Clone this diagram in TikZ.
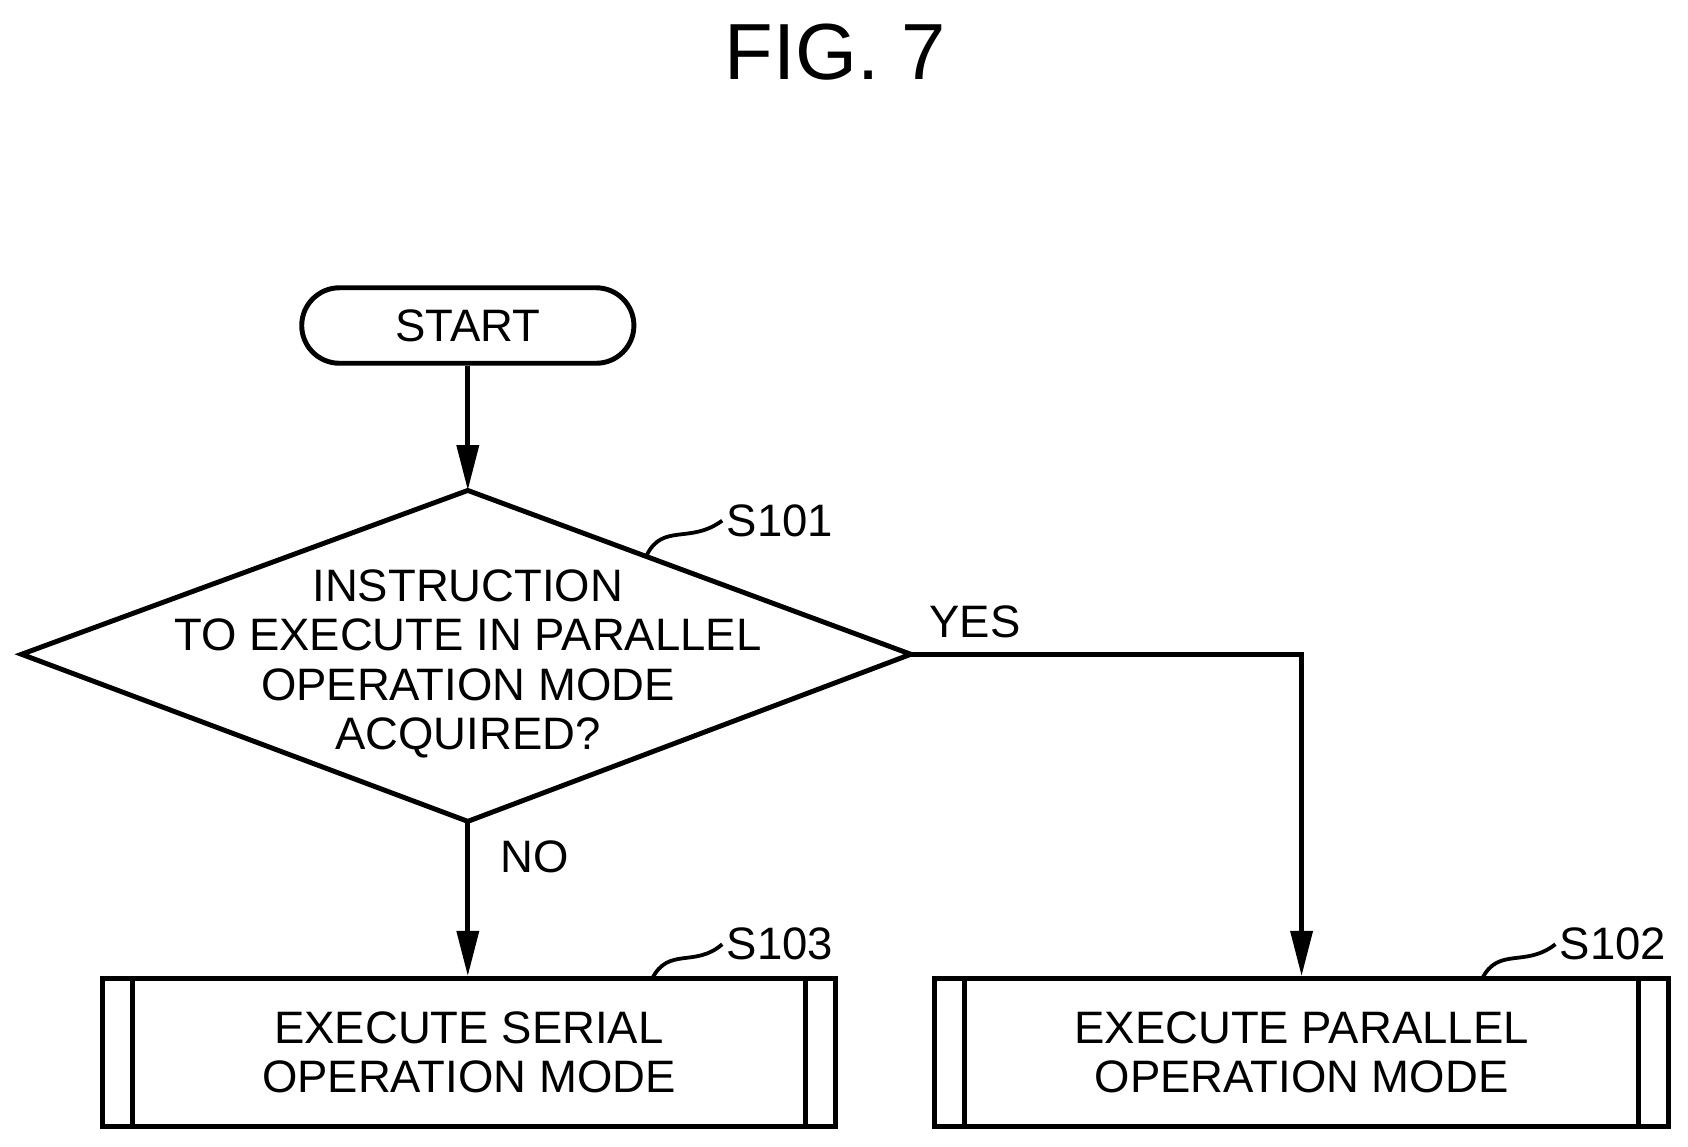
\documentclass[tikz,border=0pt]{standalone}
\usepackage{fontspec}
\setmainfont{Liberation Sans}
\usetikzlibrary{positioning}

\tikzset{
  base/.style={draw, line width=1.3pt, align=center, font=\fontsize{12}{13}\selectfont, inner sep=0pt},
  term/.style={base, rounded corners=0.35cm, minimum width=3.08cm, minimum height=0.7cm},
  subproc/.style={base, minimum width=6.8cm, minimum height=1.37cm},
  lbl/.style={font=\fontsize{12}{13}\selectfont, inner sep=1pt},
  flow/.style={line width=1.3pt, -{Triangle[length=0.42cm, width=0.2cm]}},
}
\usetikzlibrary{arrows.meta}

\begin{document}
\begin{tikzpicture}[x=0.01cm, y=-0.01cm]
  \useasboundingbox (0,0) rectangle (1566,1064);
  \node[font=\fontsize{21}{23}\selectfont] (fig) at (775,48) {FIG. 7};

  \node[term] (start) at (434,302) {START};

  % decision
  \coordinate (dtop) at (434,455);
  \coordinate (dleft) at (20,607);
  \coordinate (dright) at (845,607);
  \coordinate (dbot) at (434,762);
  \draw[line width=1.3pt] (dtop) -- (dright) -- (dbot) -- (dleft) -- cycle;
  \node[lbl, align=center] (s101txt) at (434,616)
    {INSTRUCTION\\TO EXECUTE IN PARALLEL\\OPERATION MODE\\ACQUIRED?};

  \node[subproc] (s103) at (435,976.5) {EXECUTE SERIAL\\OPERATION MODE};
  \node[subproc] (s102) at (1207.5,976.5) {EXECUTE PARALLEL\\OPERATION MODE};
  \foreach \b in {s103,s102}{
    \draw[line width=1.3pt] ([xshift=0.3cm]\b.north west) -- ([xshift=0.3cm]\b.south west);
    \draw[line width=1.3pt] ([xshift=-0.3cm]\b.north east) -- ([xshift=-0.3cm]\b.south east);
  }

  \draw[flow] (start) -- (dtop);
  \draw[flow] (dbot) -- (s103.north -| dbot);
  \draw[flow] (dright) -| (s102.north);
  \node[lbl, anchor=south west] (yes) at (858,596) {YES};
  \node[lbl, anchor=north west] (no) at (460,776) {NO};

  % step labels
  \node[lbl, anchor=west] (l101) at (670,483) {S101};
  \node[lbl, anchor=west] (l103) at (670,876) {S103};
  \node[lbl, anchor=west] (l102) at (1443,876) {S102};
  \draw[line width=1pt] (600,515) .. controls (615,485) and (640,505) .. (l101.west);
  \draw[line width=1pt] (605,908) .. controls (620,878) and (645,898) .. (l103.west);
  \draw[line width=1pt] (1375,908) .. controls (1390,878) and (1415,898) .. (l102.west);
\end{tikzpicture}
\end{document}
